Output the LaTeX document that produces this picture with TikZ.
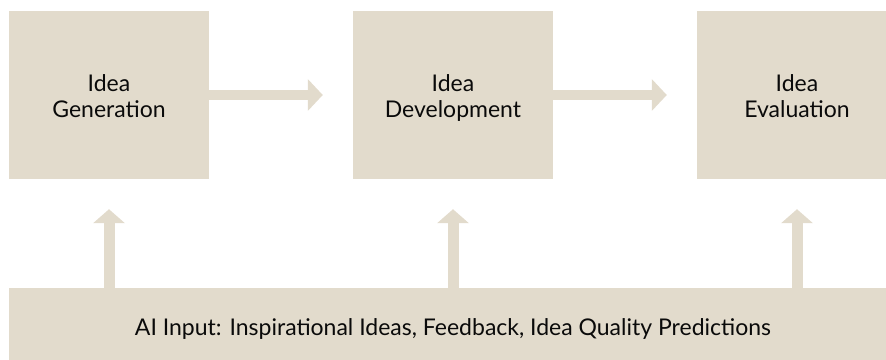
\documentclass[tikz,border=0pt]{standalone}
\usepackage{fontspec}
\setmainfont{Lato}
\usetikzlibrary{arrows.meta}
\definecolor{boxfill}{RGB}{226,219,204}
\definecolor{txt}{RGB}{10,10,10}
\tikzset{
  stage/.style={fill=boxfill, draw=none, minimum width=200pt, minimum height=168pt,
    align=center, inner sep=0pt, text=txt, font=\fontsize{23}{26.5}\selectfont},
  inputbox/.style={fill=boxfill, draw=none, minimum width=888pt, minimum height=82pt,
    inner sep=0pt, text=txt, font=\fontsize{23}{26.5}\selectfont},
  flow/.style={draw=boxfill, line width=10.7pt,
    -{Triangle[length=15pt,width=31pt,fill=boxfill]}},
  rise/.style={draw=boxfill, line width=11pt,
    -{Triangle[length=14pt,width=31pt,fill=boxfill]}},
}
\newcommand{\toprule}{\rule{0pt}{18.5pt}}
\begin{document}
\begin{tikzpicture}[x=1pt,y=-1pt]
\useasboundingbox (0,0) rectangle (886,359);
\clip (0,0) rectangle (886,359);
\node[stage] (gen) at (109,95) {\toprule Idea\\\smash{Generation}};
\node[stage] (dev) at (453,95) {\toprule Idea\\\smash{Development}};
\node[stage] (eva) at (797,95) {\toprule Idea\\\smash{Evaluation}};
\node[inputbox] (ai) at (453,329) {AI Input: Inspirational Ideas, Feedback, Idea Quality Predictions};
\draw[flow] (gen.east) -- ([xshift=-30pt]dev.west);
\draw[flow] (dev.east) -- ([xshift=-30pt]eva.west);
\draw[rise] (ai.north -| gen.south) -- ([yshift=-30pt]gen.south);
\draw[rise] (ai.north -| dev.south) -- ([yshift=-30pt]dev.south);
\draw[rise] (ai.north -| eva.south) -- ([yshift=-30pt]eva.south);
\end{tikzpicture}
\end{document}
